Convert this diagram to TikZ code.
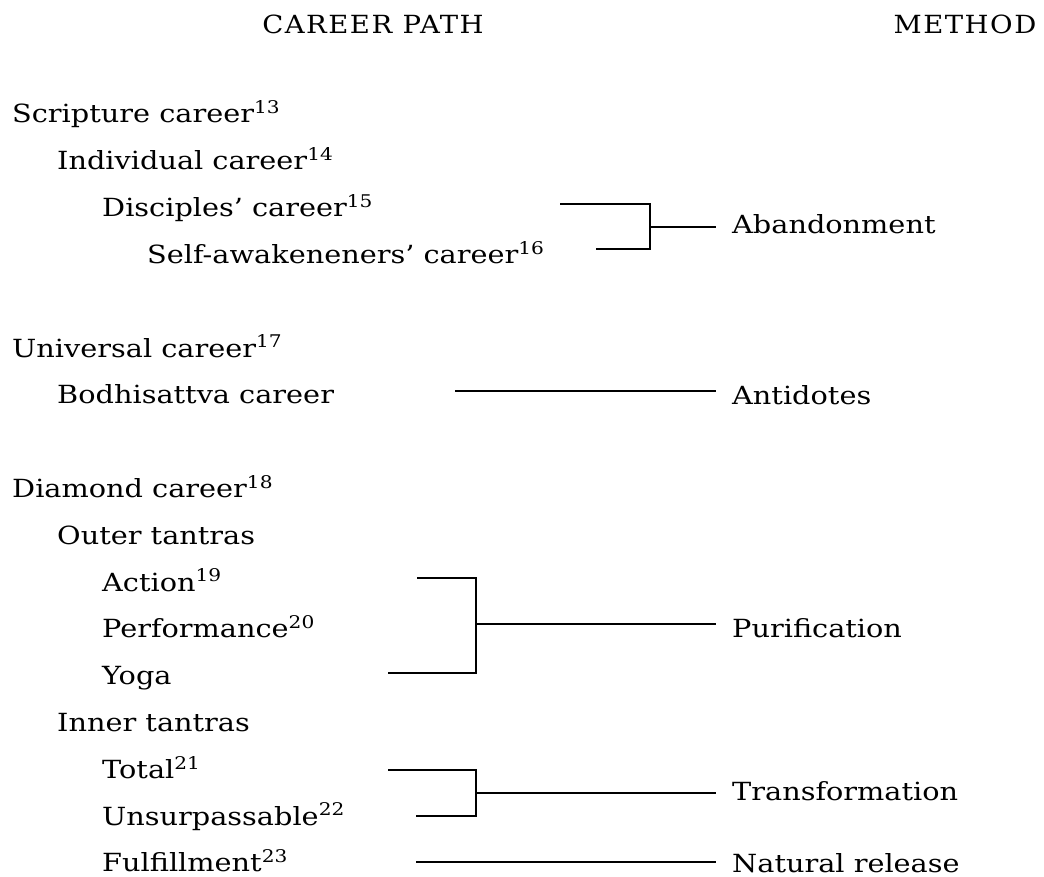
\documentclass[tikz,border=0pt]{standalone}
\usepackage{fontspec}
\setmainfont{DejaVu Serif}[FakeStretch=1.15]
\newfontfamily\headfont{DejaVu Serif}[FakeStretch=1.1,LetterSpace=6]

\begin{document}
\begin{tikzpicture}[
  x=1pt, y=-1pt,
  every node/.style={inner sep=0pt, font=\fontsize{25}{30}\selectfont},
  lvl/.style={anchor=base west},
  mthd/.style={anchor=base west, inner xsep=16pt},
  head/.style={anchor=base, font=\headfont\fontsize{25}{30}\selectfont},
  brk/.style={line width=2.1pt},
]
\useasboundingbox (0,0) rectangle (1044,877);

\node [head] (hpath) at (373,34) {CAREER PATH};
\node [head] (hmeth) at (965,34) {METHOD};

% career path column
\node [lvl] (scrip) at (12,123) {Scripture career\textsuperscript{13}};
\node [lvl] (indiv) at (57,169.8) {Individual career\textsuperscript{14}};
\node [lvl] (disc) at (102,216.6) {Disciples' career\textsuperscript{15}};
\node [lvl] (self) at (147,263.4) {Self-awakeneners' career\textsuperscript{16}};
\node [lvl] (univ) at (12,357) {Universal career\textsuperscript{17}};
\node [lvl] (bodhi) at (57,403.8) {Bodhisattva career};
\node [lvl] (diam) at (12,497.4) {Diamond career\textsuperscript{18}};
\node [lvl] (outer) at (57,544.2) {Outer tantras};
\node [lvl] (action) at (102,591) {Action\textsuperscript{19}};
\node [lvl] (perf) at (102,637.8) {Performance\textsuperscript{20}};
\node [lvl] (yoga) at (102,684.6) {Yoga};
\node [lvl] (inner) at (57,731.4) {Inner tantras};
\node [lvl] (total) at (102,778.2) {Total\textsuperscript{21}};
\node [lvl] (unsur) at (102,825) {Unsurpassable\textsuperscript{22}};
\node [lvl] (fulfil) at (102,871.8) {Fulfillment\textsuperscript{23}};

% method column
\node [mthd] (aband) at (716,234) {Abandonment};
\node [mthd] (antid) at (716,404) {Antidotes};
\node [mthd] (purif) at (716,637) {Purification};
\node [mthd] (trans) at (716,800) {Transformation};
\node [mthd] (natur) at (716,872) {Natural release};

% brackets
\coordinate (discend) at (560,204);
\coordinate (selfend) at (596,249);
\coordinate (abj) at (650,227);
\draw [brk] (discend) -| (abj) |- (selfend);
\draw [brk] (abj) -- (abj -| aband.west);

\coordinate (bodend) at (455,391);
\draw [brk] (bodend) -- (bodend -| antid.west);

\coordinate (actend) at (417,578);
\coordinate (yogaend) at (388,673);
\coordinate (puj) at (476,624);
\draw [brk] (actend) -| (puj) |- (yogaend);
\draw [brk] (puj) -- (puj -| purif.west);

\coordinate (totend) at (388,770);
\coordinate (unsend) at (416,816);
\coordinate (trj) at (476,793);
\draw [brk] (totend) -| (trj) |- (unsend);
\draw [brk] (trj) -- (trj -| trans.west);

\coordinate (fulend) at (416,862);
\draw [brk] (fulend) -- (fulend -| natur.west);

\end{tikzpicture}
\end{document}
